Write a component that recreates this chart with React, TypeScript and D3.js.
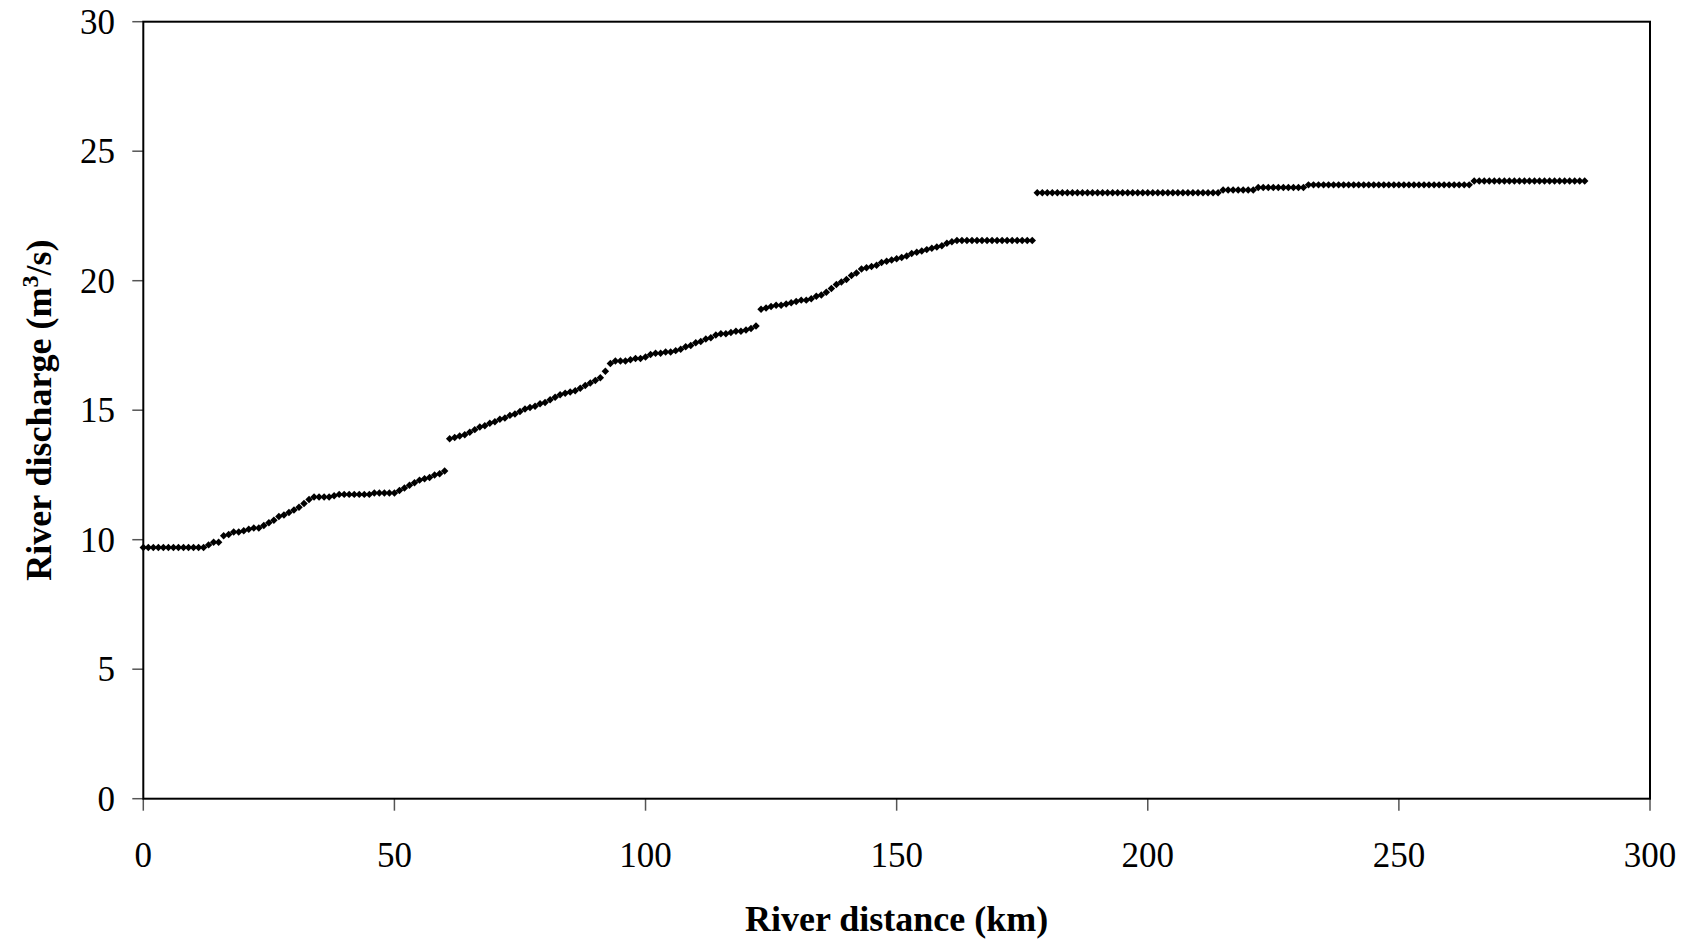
import React from 'react';
import * as d3 from 'd3';

// River distance (km) at which each continuous segment starts; points are ~1 km apart
const segmentStarts = [0, 61, 123, 178];

// River discharge (m3/s), segment 1: km 0 – 60
const dischargeA = [
  9.7, 9.7, 9.7, 9.7, 9.7, 9.7, 9.7, 9.7, 9.7, 9.7, 9.7, 9.7, 9.7, 9.8, 9.9, 9.9,
  10.15, 10.2, 10.3, 10.3, 10.35, 10.4, 10.45, 10.45, 10.55, 10.65, 10.75, 10.9, 10.95,
  11.05, 11.15, 11.25, 11.4, 11.55, 11.65, 11.65, 11.65, 11.65, 11.7, 11.75, 11.75,
  11.75, 11.75, 11.75, 11.75, 11.75, 11.8, 11.8, 11.8, 11.8, 11.8, 11.9, 12.0, 12.1,
  12.2, 12.3, 12.35, 12.4, 12.5, 12.55, 12.65,
];

// segment 2: km 61 – 122
const dischargeB = [
  13.9, 13.95, 14.0, 14.05, 14.15, 14.25, 14.35, 14.4, 14.5, 14.55, 14.65, 14.7, 14.8,
  14.85, 14.95, 15.05, 15.1, 15.15, 15.25, 15.3, 15.4, 15.5, 15.6, 15.65, 15.7, 15.75,
  15.85, 15.95, 16.05, 16.15, 16.25, 16.5, 16.8, 16.9, 16.9, 16.9, 16.95, 17.0, 17.0,
  17.05, 17.15, 17.2, 17.2, 17.25, 17.25, 17.3, 17.35, 17.45, 17.5, 17.6, 17.65, 17.75,
  17.8, 17.9, 17.95, 17.95, 18.0, 18.05, 18.05, 18.1, 18.15, 18.25,
];

// segment 3: km 123 – 177
const dischargeC = [
  18.9, 18.95, 19.0, 19.05, 19.05, 19.1, 19.15, 19.2, 19.25, 19.25, 19.3, 19.4, 19.45,
  19.55, 19.7, 19.85, 19.95, 20.05, 20.2, 20.3, 20.45, 20.5, 20.55, 20.6, 20.7, 20.75,
  20.8, 20.85, 20.9, 20.95, 21.05, 21.1, 21.15, 21.2, 21.25, 21.3, 21.35, 21.45, 21.5,
  21.55, 21.55, 21.55, 21.55, 21.55, 21.55, 21.55, 21.55, 21.55, 21.55, 21.55, 21.55,
  21.55, 21.55, 21.55, 21.55,
];

// segment 4: km 178 – 287
const dischargeD = [
  23.4, 23.4, 23.4, 23.4, 23.4, 23.4, 23.4, 23.4, 23.4, 23.4, 23.4, 23.4, 23.4, 23.4,
  23.4, 23.4, 23.4, 23.4, 23.4, 23.4, 23.4, 23.4, 23.4, 23.4, 23.4, 23.4, 23.4, 23.4,
  23.4, 23.4, 23.4, 23.4, 23.4, 23.4, 23.4, 23.4, 23.4,
  23.5, 23.5, 23.5, 23.5, 23.5, 23.5, 23.5,
  23.6, 23.6, 23.6, 23.6, 23.6, 23.6, 23.6, 23.6, 23.6, 23.6,
  23.7, 23.7, 23.7, 23.7, 23.7, 23.7, 23.7, 23.7, 23.7, 23.7, 23.7, 23.7, 23.7, 23.7,
  23.7, 23.7, 23.7, 23.7, 23.7, 23.7, 23.7, 23.7, 23.7, 23.7, 23.7, 23.7, 23.7, 23.7,
  23.7, 23.7, 23.7, 23.7, 23.7,
  23.85, 23.85, 23.85, 23.85, 23.85, 23.85, 23.85, 23.85, 23.85, 23.85, 23.85, 23.85,
  23.85, 23.85, 23.85, 23.85, 23.85, 23.85, 23.85, 23.85, 23.85, 23.85, 23.85,
];

const segments = [dischargeA, dischargeB, dischargeC, dischargeD];

const xTicks = [0, 50, 100, 150, 200, 250, 300];
const yTicks = [0, 5, 10, 15, 20, 25, 30];

const xTitle = 'River distance (km)';

const FONT = '"Liberation Serif", "Times New Roman", serif';

export default function App() {
  const W = 1694;
  const H = 944;
  const left = 143.3;
  const right = 1650;
  const top = 21.7;
  const bottom = 798.7;

  const x = d3.scaleLinear().domain([0, 300]).range([left, right]);
  const y = d3.scaleLinear().domain([0, 30]).range([bottom, top]);

  const points = segments.flatMap((vals, s) =>
    vals.map((v, i) => ({ d: segmentStarts[s] + i, q: v }))
  );

  const diamond = d3.symbol(d3.symbolSquare, 28)();

  return (
    <svg
      width={W}
      height={H}
      style={{ position: 'absolute', left: 0, top: 0, background: '#fff' }}
      fontFamily={FONT}
    >
      <rect x={0} y={0} width={W} height={H} fill="#fff" />
      {/* y ticks */}
      {yTicks.map((t) => (
        <g key={'y' + t}>
          <line x1={left - 11} x2={left} y1={y(t)} y2={y(t)} stroke="#555" strokeWidth={1.5} />
          <text x={115} y={y(t) + 11.8} fontSize={35} textAnchor="end" fill="#000">
            {t}
          </text>
        </g>
      ))}
      {/* x ticks */}
      {xTicks.map((t) => (
        <g key={'x' + t}>
          <line x1={x(t)} x2={x(t)} y1={bottom} y2={bottom + 12} stroke="#555" strokeWidth={1.5} />
          <text x={x(t)} y={866.5} fontSize={35} textAnchor="middle" fill="#000">
            {t}
          </text>
        </g>
      ))}
      {/* frame */}
      <rect
        x={left}
        y={top}
        width={right - left}
        height={bottom - top}
        fill="none"
        stroke="#000"
        strokeWidth={2}
      />
      {/* points */}
      {points.map((p, i) => (
        <path
          key={i}
          d={diamond as string}
          transform={`translate(${x(p.d)},${y(p.q)}) rotate(45)`}
          fill="#000"
        />
      ))}
      {/* axis titles */}
      <text
        x={(left + right) / 2}
        y={931}
        fontSize={36}
        fontWeight="bold"
        textAnchor="middle"
        fill="#000"
      >
        {xTitle}
      </text>
      <text
        transform={`translate(51, ${(top + bottom) / 2}) rotate(-90)`}
        fontSize={36}
        fontWeight="bold"
        textAnchor="middle"
        fill="#000"
      >
        River discharge (m
        <tspan dy={-13} fontSize={24}>3</tspan>
        <tspan dy={13}>/s)</tspan>
      </text>
    </svg>
  );
}
